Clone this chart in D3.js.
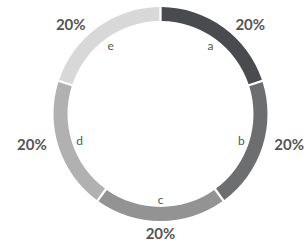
<!DOCTYPE html>
<html><head><meta charset="utf-8">
<script src="https://cdn.jsdelivr.net/npm/d3@7"></script>
<style>html,body{margin:0;padding:0;background:#fff;}svg{display:block;}</style>
</head><body>
<svg id="chart" width="306" height="243"></svg>
<script>
const categories = ["a", "b", "c", "d", "e"];
const values = [20, 20, 20, 20, 20];
const percentLabels = ["20%", "20%", "20%", "20%", "20%"];
const colors = ["#4a4b4e", "#6d6e70", "#939393", "#b1b1b1", "#d8d8d8"];

const W = 306, H = 243;
const cx = 160.5, cy = 114;
const rOuter = 107, rInner = 93;

const svg = d3.select("#chart");
const g = svg.append("g").attr("transform", `translate(${cx},${cy})`);

const data = categories.map((c, i) => ({cat: c, value: values[i], label: percentLabels[i], color: colors[i]}));
const pie = d3.pie().value(d => d.value).sort(null).padAngle(0.016);
const arcs = pie(data);
const arc = d3.arc().innerRadius(rInner).outerRadius(rOuter);

g.selectAll("path.slice").data(arcs).join("path")
  .attr("class", "slice")
  .attr("d", arc)
  .attr("fill", d => d.data.color);

const labelArc = d3.arc().innerRadius(85).outerRadius(85);
g.selectAll("text.cat").data(arcs).join("text")
  .attr("class", "cat")
  .attr("x", d => labelArc.centroid(d)[0])
  .attr("y", d => labelArc.centroid(d)[1])
  .attr("text-anchor", "middle")
  .attr("dominant-baseline", "central")
  .attr("font-family", "Lato, 'Open Sans', sans-serif")
  .attr("font-size", 12)
  .attr("fill", "#555")
  .text(d => d.data.cat);

const edgeArc = d3.arc().innerRadius(rOuter).outerRadius(rOuter);
g.selectAll("text.pct").data(arcs).join("text")
  .attr("class", "pct")
  .each(function(d) {
    const [x, y] = edgeArc.centroid(d);
    const mid = (d.startAngle + d.endAngle) / 2;
    const s = Math.sin(mid);
    const t = d3.select(this);
    if (Math.abs(s) < 0.1) {
      t.attr("x", x).attr("y", y + 12).attr("text-anchor", "middle");
    } else {
      t.attr("x", x + (s > 0 ? 12 : -12)).attr("y", y - 3).attr("text-anchor", s > 0 ? "start" : "end");
    }
  })
  .attr("dominant-baseline", "central")
  .attr("font-family", "Lato, 'Open Sans', sans-serif")
  .attr("font-weight", "bold")
  .attr("font-size", 15)
  .attr("fill", "#555")
  .text(d => d.data.label);
</script>
</body></html>
